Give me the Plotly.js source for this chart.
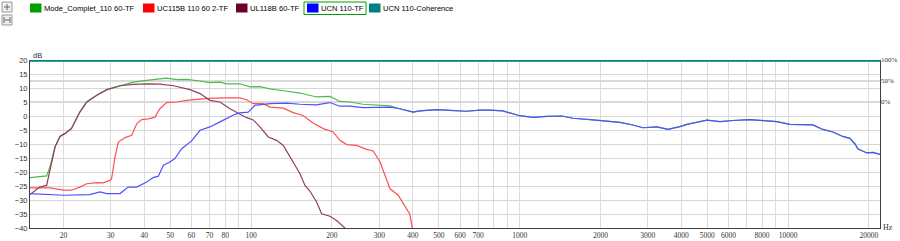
<!DOCTYPE html>
<html>
<head>
<meta charset="utf-8">
<script src="https://cdn.plot.ly/plotly-3.0.1.min.js"></script>
<style>
html,body{margin:0;padding:0;background:#ffffff;}
#chart{width:900px;height:241px;}
</style>
</head>
<body>
<div id="chart"></div>
<script>
// ---------- DATA ----------
const seriesNames = ["Mode_Complet_110 60-TF", "UC115B 110 60 2-TF", "UL118B 60-TF", "UCN 110-TF", "UCN 110-Coherence"];
const seriesColors = ["#00a000", "#ff0000", "#6b0028", "#0000ff", "#008080"];

// UL118B 60-TF (maroon)
const ul118F = [15, 16.3, 17.3, 17.8, 18.6, 19.4, 20.2, 21.4, 23.0, 24.4, 26.6, 29.0, 32.5, 36.4, 40.8, 45.7, 51.3, 59.2, 64.5, 70.2, 76.5, 83.4, 90.8, 96.2, 101.8, 107.8, 115.8, 124.4, 131.7, 137.4, 143.4, 152, 158.6, 165.5, 175.3, 183, 196.5, 208, 223.5, 226];
const ul118Db = [-28, -25.4, -24.8, -19.4, -11, -7.3, -6.3, -4.5, 1.4, 5, 7.4, 9.4, 10.8, 11.3, 11.5, 11.4, 10.8, 9.4, 8, 5.6, 5, 2.6, 0.8, -0.6, -1.4, -3.9, -7.5, -8.7, -10.5, -13.5, -17, -20.6, -24.8, -26.8, -30.7, -34.9, -35.8, -37.3, -40, -41];

// UC115B 110 60 2-TF (red)
const uc115F = [15, 17.8, 20, 21.4, 23, 24.4, 26.6, 28.1, 29.8, 30.2, 31.1, 32.0, 33.9, 35.9, 37.5, 39.1, 41.4, 43.8, 45.7, 48.4, 52.8, 57.5, 64.5, 72.2, 81, 90.8, 96.2, 101.8, 110.9, 117.5, 124.4, 131.7, 143.4, 152, 156, 170, 185.6, 202, 214, 227, 247, 269, 285, 302, 315, 329, 353, 374, 390, 398, 400];
const uc115Db = [-25.7, -25.7, -26.5, -26.5, -25.4, -24.2, -23.8, -23.9, -23, -22.4, -14.6, -9.3, -7.7, -6.9, -2.7, -1.3, -1, -0.4, 2.6, 4.8, 5, 5.6, 6, 6.4, 6.5, 6.5, 5.8, 4.4, 4.4, 3.2, 3.0, 2.8, 1.2, 0.5, 0.2, -2.5, -4.5, -5.7, -8.7, -10.2, -10.5, -11.9, -12.5, -16.4, -21.2, -26, -28.3, -32.5, -35.1, -40, -41];

// UCN 110-TF (blue)
const ucnF = [15, 17.8, 20, 25.1, 27.3, 29, 32.5, 34.8, 37.5, 40.8, 43.2, 45.1, 47.1, 49.8, 52, 55.1, 60, 64.5, 70.2, 76.5, 81, 87, 90.8, 97.5, 103.3, 110.9, 117.5, 135.5, 152, 175, 196.5, 214, 233, 261, 293, 329, 358, 401, 425, 491, 550, 634, 711, 775, 866, 1000, 1121, 1264, 1437, 1580, 1875, 2364, 2642, 2879, 3246, 3567, 3954, 4199, 4983, 5572, 6230, 7205, 9083, 10150, 12370, 13480, 14690, 15990, 16980, 17730, 18190, 19650, 20690, 22000];
const ucnDb = [-27.7, -28, -28.3, -28.1, -27.1, -27.7, -27.7, -25.4, -25.4, -23.6, -22, -21.5, -17.6, -16.4, -15.2, -11.7, -8.9, -5.1, -3.9, -2.1, -1, 0.6, 1.1, 1.4, 3.8, 4.2, 4.4, 4.6, 4.2, 4, 4.8, 3.5, 3.5, 3, 3.2, 3.2, 2.6, 1.4, 1.8, 2.3, 2, 1.7, 2.1, 2.1, 1.8, 0.1, -0.5, -0.1, 0, -0.8, -1.4, -2.3, -3.2, -4.2, -3.9, -4.8, -3.8, -3.0, -1.5, -2.0, -1.6, -1.3, -2.0, -3.0, -3.2, -4.8, -5.7, -7.3, -8.0, -9.9, -11.7, -13.2, -13.0, -13.7];

// Mode_Complet_110 60-TF (green): low part read separately; above ~358 Hz it lies under the UCN 110-TF curve
const compLowF = [15, 17.3, 17.8, 18.6, 19.4, 20.2, 21.4, 23.0, 24.4, 26.6, 29.0, 32.5, 33.9, 36.4, 40.8, 44.5, 48.4, 52.8, 57.5, 64.5, 70.2, 76.5, 81, 90.8, 99, 107.8, 117.5, 128, 139.4, 152, 175.3, 196.5, 214, 233, 261, 293, 329];
const compLowDb = [-22, -21.4, -18.2, -11, -7.3, -6.3, -4.5, 1.4, 5, 7.4, 9.4, 10.8, 11.1, 12.1, 12.7, 13, 13.5, 13, 13.1, 12.5, 11.9, 12.1, 11.5, 11.5, 10.4, 10.5, 9.7, 9.2, 8.8, 8.2, 6.8, 7, 5.2, 5, 4.2, 3.8, 3.6];
const compJoinHz = 358;

// UCN 110-Coherence (%)
const cohF = [15, 100, 1000, 10000, 22000];
const cohPct = [100, 100, 100, 100, 100];

// Axis ticks
const xTickVals = [20,30,40,50,60,70,80,90,100,200,300,400,500,600,700,800,900,1000,2000,3000,4000,5000,6000,7000,8000,9000,10000,20000];
const xTickText = ["20","30","40","50","60","70","80","","100","200","300","400","500","600","700","","","1000","2000","3000","4000","5000","6000","","8000","","10000","20000"];
const xMajorDecades = [100, 1000, 10000];
const yTickVals = [20,15,10,5,0,-5,-10,-15,-20,-25,-30,-35,-40];
const y2TickVals = [100, 50, 0];
const y2TickText = ["100%", "50%", "0%"];

// ---------- BUILD ----------
const compF = compLowF.concat(ucnF.filter(f => f >= compJoinHz));
const compDb = compLowDb.concat(ucnDb.filter((v, i) => ucnF[i] >= compJoinHz));

const lineW = 1.2;
const traces = [
  {x: compF, y: compDb, name: seriesNames[0], type: 'scatter', mode: 'lines', line: {color: '#4cbb4c', width: lineW}},
  {x: uc115F, y: uc115Db, name: seriesNames[1], type: 'scatter', mode: 'lines', line: {color: '#ff5050', width: lineW}},
  {x: ul118F, y: ul118Db, name: seriesNames[2], type: 'scatter', mode: 'lines', line: {color: '#8e425c', width: lineW}},
  {x: ucnF, y: ucnDb, name: seriesNames[3], type: 'scatter', mode: 'lines', line: {color: '#5050ff', width: lineW}},
  {x: cohF, y: cohPct, name: seriesNames[4], type: 'scatter', mode: 'lines', yaxis: 'y2', line: {color: seriesColors[4], width: 3.5}}
];

const L = 30, R = 880, T = 60, B = 228;
const px2x = px => (px - L) / (R - L);
const py2y = py => (B - py) / (B - T);

const shapes = [];
const annotations = [];
const sansFont = 'Liberation Sans, Arial, sans-serif';

// darker decade gridlines
xMajorDecades.forEach(f => {
  shapes.push({type: 'line', layer: 'below', xref: 'x', yref: 'paper', x0: Math.log10(f), x1: Math.log10(f), y0: 0, y1: 1, line: {color: '#a8a8a8', width: 1}});
});

// custom legend (squares + text)
const legX = [30, 143, 236, 307, 369];
legX.forEach((px, i) => {
  shapes.push({type: 'rect', xref: 'paper', yref: 'paper', x0: px2x(px), x1: px2x(px + 11.5), y0: py2y(12.5), y1: py2y(3.5), fillcolor: seriesColors[i], line: {width: 0}});
  annotations.push({xref: 'paper', yref: 'paper', x: px2x(px + 12), y: py2y(8), xanchor: 'left', yanchor: 'middle', text: seriesNames[i], showarrow: false,
    font: {family: sansFont, size: 7.6, color: '#000000'}});
});
// selected item frame
shapes.push({type: 'rect', xref: 'paper', yref: 'paper', x0: px2x(304), x1: px2x(366), y0: py2y(14.5), y1: py2y(2), line: {color: '#00a000', width: 1}, fillcolor: 'rgba(0,0,0,0)'});

// toolbar icons top-left
[[2, 2], [2, 15]].forEach(([ix, iy]) => {
  shapes.push({type: 'rect', xref: 'paper', yref: 'paper', x0: px2x(ix), x1: px2x(ix + 10), y0: py2y(iy + 10), y1: py2y(iy), fillcolor: '#eeeeee', line: {color: '#9a9a9a', width: 1}});
});
shapes.push({type: 'line', xref: 'paper', yref: 'paper', x0: px2x(4), x1: px2x(10), y0: py2y(7), y1: py2y(7), line: {color: '#666', width: 1}});
shapes.push({type: 'line', xref: 'paper', yref: 'paper', x0: px2x(7), x1: px2x(7), y0: py2y(4), y1: py2y(10), line: {color: '#666', width: 1}});
shapes.push({type: 'line', xref: 'paper', yref: 'paper', x0: px2x(4.5), x1: px2x(9.5), y0: py2y(20), y1: py2y(20), line: {color: '#666', width: 1}});
shapes.push({type: 'line', xref: 'paper', yref: 'paper', x0: px2x(4), x1: px2x(4), y0: py2y(17), y1: py2y(23), line: {color: '#666', width: 1}});
shapes.push({type: 'line', xref: 'paper', yref: 'paper', x0: px2x(10), x1: px2x(10), y0: py2y(17), y1: py2y(23), line: {color: '#666', width: 1}});

// unit labels
annotations.push({xref: 'paper', yref: 'paper', x: px2x(31), y: py2y(55), xanchor: 'left', yanchor: 'middle', text: 'dB', showarrow: false,
  font: {family: sansFont, size: 7.5, color: '#333'}});
annotations.push({xref: 'paper', yref: 'paper', x: px2x(881), y: py2y(227), xanchor: 'left', yanchor: 'middle', text: 'Hz', showarrow: false,
  font: {family: 'Liberation Serif, serif', size: 8, color: '#333'}});

const layout = {
  width: 900, height: 241,
  margin: {l: L, r: 900 - R, t: T, b: 241 - B, pad: 0},
  paper_bgcolor: '#ffffff', plot_bgcolor: '#ffffff',
  showlegend: false,
  xaxis: {
    type: 'log', range: [Math.log10(15), Math.log10(22000)],
    tickmode: 'array', tickvals: xTickVals, ticktext: xTickText,
    showgrid: true, gridcolor: '#dcdcdc', gridwidth: 1,
    zeroline: false, showline: true, linecolor: '#404040', linewidth: 1, mirror: false,
    ticks: '', ticklabelstandoff: 0,
    tickfont: {family: 'Liberation Serif, serif', size: 7.5, color: '#333'}
  },
  yaxis: {
    range: [-40, 20], tickmode: 'array', tickvals: yTickVals,
    showgrid: true, gridcolor: '#d6d6d6', gridwidth: 1,
    zeroline: false, showline: true, linecolor: '#404040', linewidth: 1, mirror: true,
    ticks: '',
    tickfont: {family: sansFont, size: 7.5, color: '#333'}
  },
  yaxis2: {
    overlaying: 'y', side: 'right', range: [-300, 100],
    tickmode: 'array', tickvals: y2TickVals, ticktext: y2TickText,
    showgrid: true, gridcolor: '#dadada', gridwidth: 1.6,
    zeroline: false, showline: false, ticks: '',
    tickfont: {family: 'Liberation Serif, serif', size: 7, color: '#333'}
  },
  shapes: shapes,
  annotations: annotations
};

Plotly.newPlot('chart', traces, layout, {displayModeBar: false, staticPlot: true});
</script>
</body>
</html>
